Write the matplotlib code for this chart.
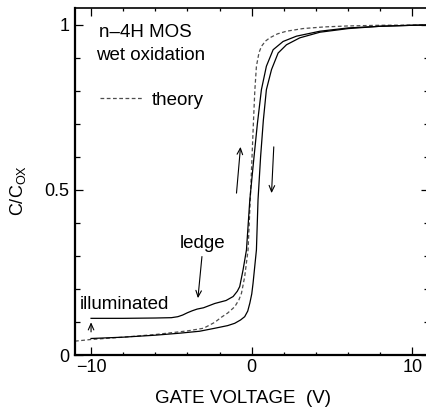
import numpy as np
import matplotlib
matplotlib.use("Agg")
import matplotlib.pyplot as plt
from matplotlib.ticker import MultipleLocator, FuncFormatter

plt.rcParams["font.family"] = ["Liberation Sans", "DejaVu Sans"]
plt.rcParams["mathtext.default"] = "regular"

# theory curve (dashed)
v_theory = [-11, -10, -8, -6, -4, -3, -2.3, -1.9, -1.5, -1.06, -0.8, -0.64, -0.44,
            -0.23, -0.12, 0.0, 0.1, 0.19, 0.29, 0.45, 0.6, 0.85, 1.12, 1.6, 2.16,
            3.18, 4.5, 6, 8, 11]
c_theory = [0.042, 0.047, 0.054, 0.062, 0.073, 0.081, 0.099, 0.114, 0.127, 0.146,
            0.167, 0.187, 0.237, 0.318, 0.44, 0.58, 0.70, 0.80, 0.874, 0.915, 0.934,
            0.950, 0.960, 0.972, 0.980, 0.988, 0.993, 0.996, 0.998, 0.999]

# illuminated sweep (up, left branch)
v_up = [-10, -8, -6, -5, -4.6, -4.3, -4.0, -3.7, -3.4, -3.0, -2.3, -1.6, -1.16,
        -0.9, -0.75, -0.54, -0.33, -0.12, 0.1, 0.35, 0.6, 0.91, 1.33, 1.95, 2.78,
        4.24, 6, 8, 10, 11]
c_up = [0.111, 0.111, 0.112, 0.113, 0.116, 0.121, 0.128, 0.134, 0.139, 0.143,
        0.156, 0.165, 0.177, 0.193, 0.207, 0.258, 0.318, 0.47, 0.58, 0.70, 0.803,
        0.874, 0.924, 0.949, 0.965, 0.980, 0.990, 0.995, 0.998, 0.999]

# sweep down (right branch)
v_down = [-10, -8, -6, -4.5, -3.24, -2.3, -1.5, -1.06, -0.7, -0.44, -0.25, -0.12,
          0.0, 0.08, 0.19, 0.29, 0.39, 0.55, 0.72, 0.91, 1.23, 1.64, 2.16, 2.99,
          4.24, 6, 8, 10, 11]
c_down = [0.050, 0.054, 0.060, 0.066, 0.072, 0.081, 0.089, 0.096, 0.106, 0.116,
          0.133, 0.157, 0.185, 0.217, 0.270, 0.318, 0.47, 0.60, 0.71, 0.803,
          0.864, 0.914, 0.939, 0.960, 0.977, 0.988, 0.995, 0.998, 0.999]

fig = plt.figure(figsize=(4.27, 4.13), dpi=100)
ax = fig.add_axes([0.1756, 0.1404, 0.828, 0.840])

ax.plot(v_theory, c_theory, color="0.3", lw=0.9, linestyle=(0, (3, 2)), label="theory")
ax.plot(v_up, c_up, color="black", lw=0.9)
ax.plot(v_down, c_down, color="black", lw=0.9)

ax.set_xlim(-11, 11)
ax.set_ylim(0, 1.05)

ax.xaxis.set_major_locator(MultipleLocator(10))
ax.xaxis.set_minor_locator(MultipleLocator(2))
ax.yaxis.set_major_locator(MultipleLocator(0.5))
ax.yaxis.set_minor_locator(MultipleLocator(0.1))
ax.yaxis.set_major_formatter(FuncFormatter(lambda v, p: "{:g}".format(v)))

ax.tick_params(which="both", direction="in", top=True, right=True, labelsize=13)
ax.tick_params(axis="y", which="major", length=5.5, width=0.9, pad=4)
ax.tick_params(axis="y", which="minor", length=3.6, width=0.9)
ax.tick_params(axis="x", which="major", length=6, width=0.9, pad=3)
ax.tick_params(axis="x", which="minor", length=2.2, width=0.9)

for s in ["left", "bottom"]:
    ax.spines[s].set_linewidth(1.6)
ax.spines["top"].set_linewidth(1.2)
ax.spines["right"].set_linewidth(1.2)

ax.set_xlabel("GATE VOLTAGE  (V)", fontsize=13.5)
ax.set_ylabel("C/C$_{OX}$", fontsize=13)
ax.xaxis.set_label_coords(0.474, -0.102)
ax.yaxis.set_label_coords(-0.134, 0.475)

ax.text(-9.53, 0.976, "n\u20134H MOS", fontsize=13.5, va="center", ha="left")
ax.text(-9.66, 0.906, "wet oxidation", fontsize=13.5, va="center", ha="left")
ax.legend(loc="center left", bbox_to_anchor=(0.07, 0.735), frameon=False,
          fontsize=13.5, handlelength=2.3, handletextpad=0.5, borderpad=0,
          borderaxespad=0)

ax.text(-4.49, 0.339, "ledge", fontsize=13.5, va="center", ha="left")
ax.text(-10.7, 0.152, "illuminated", fontsize=13.5, va="center", ha="left")

arr = dict(arrowstyle="->,head_length=0.45,head_width=0.2", lw=0.8,
           color="black", shrinkA=0, shrinkB=0)
ax.annotate("", xy=(-3.35, 0.172), xytext=(-3.10, 0.298), arrowprops=arr)
ax.annotate("", xy=(-10, 0.099), xytext=(-10, 0.07), arrowprops=arr)
ax.annotate("", xy=(-0.70, 0.63), xytext=(-0.95, 0.49), arrowprops=arr)
ax.annotate("", xy=(1.23, 0.49), xytext=(1.37, 0.63), arrowprops=arr)

fig.savefig("out.png", dpi=100)
